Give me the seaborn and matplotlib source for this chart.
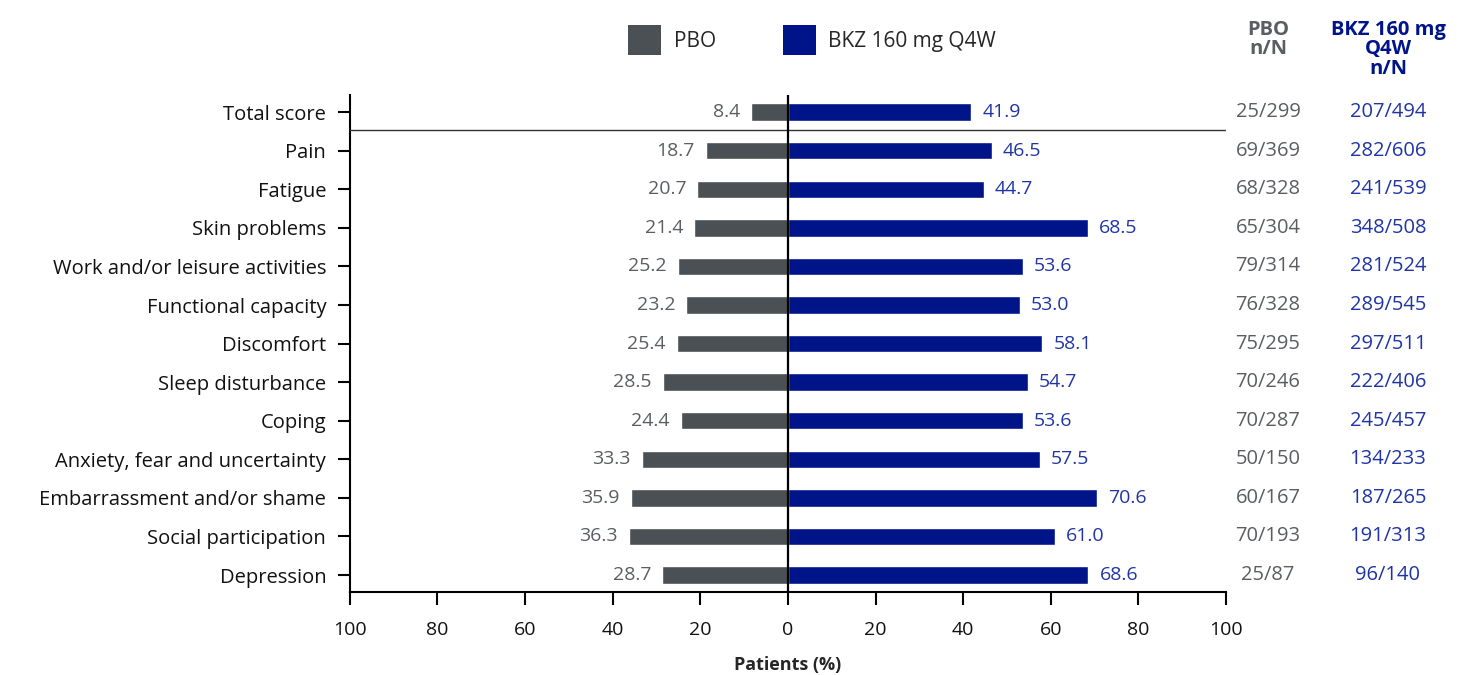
import numpy as np
import pandas as pd
import matplotlib.pyplot as plt
import seaborn as sns
from matplotlib.patches import Patch
from matplotlib.transforms import blended_transform_factory

categories = ["Total score", "Pain", "Fatigue", "Skin problems", "Work and/or leisure activities",
              "Functional capacity", "Discomfort", "Sleep disturbance", "Coping",
              "Anxiety, fear and uncertainty", "Embarrassment and/or shame",
              "Social participation", "Depression"]
pbo = [8.4, 18.7, 20.7, 21.4, 25.2, 23.2, 25.4, 28.5, 24.4, 33.3, 35.9, 36.3, 28.7]
bkz = [41.9, 46.5, 44.7, 68.5, 53.6, 53.0, 58.1, 54.7, 53.6, 57.5, 70.6, 61.0, 68.6]
pbo_nN = ["25/299", "69/369", "68/328", "65/304", "79/314", "76/328", "75/295",
          "70/246", "70/287", "50/150", "60/167", "70/193", "25/87"]
bkz_nN = ["207/494", "282/606", "241/539", "348/508", "281/524", "289/545", "297/511",
          "222/406", "245/457", "134/233", "187/265", "191/313", "96/140"]
xticks = [-100, -80, -60, -40, -20, 0, 20, 40, 60, 80, 100]

GREY = "#4b5054"
NAVY = "#00148a"
GREY_TXT = "#5a5e62"
BLUE_TXT = "#1f35a5"

sns.set_theme(style="white")
plt.rcParams["font.family"] = ["Open Sans", "DejaVu Sans"]

df = pd.DataFrame({"cat": categories, "pbo": [-v for v in pbo], "bkz": bkz})

fig = plt.figure(figsize=(14.7, 6.75), dpi=100)
ax = fig.add_axes([0.238, 0.123, 0.596, 0.736])

sns.barplot(data=df, x="pbo", y="cat", color=GREY, width=0.45, saturation=1, ax=ax, orient="h")
sns.barplot(data=df, x="bkz", y="cat", color=NAVY, width=0.45, saturation=1, ax=ax, orient="h")

ax.set_xlim(-100, 100)
ax.set_ylim(12.44, -0.44)
ax.set_xticks(xticks)
ax.set_xticklabels([str(abs(t)) for t in xticks], fontsize=14, color="#111111")
ax.tick_params(axis="y", labelsize=14.5, labelcolor="#111111", pad=8)
ax.tick_params(axis="both", direction="out", length=9, width=1.5, color="black", left=True, bottom=True)
ax.tick_params(axis="x", pad=12)
ax.set_ylabel("")
ax.set_xlabel("Patients (%)", fontsize=13, fontweight="bold", labelpad=12)

for s in ["top", "right"]:
    ax.spines[s].set_visible(False)
for s in ["left", "bottom"]:
    ax.spines[s].set_color("black")
    ax.spines[s].set_linewidth(1.5)

ax.axvline(0, color="black", lw=1.6, zorder=5)
ax.axhline(0.45, color="#333333", lw=1.0, xmin=0, xmax=1, zorder=4)

for i in range(len(categories)):
    ax.annotate(f"{pbo[i]:.1f}", (-pbo[i], i), xytext=(-8, 0), textcoords="offset points",
                ha="right", va="center", fontsize=14, color=GREY_TXT)
    ax.annotate(f"{bkz[i]:.1f}", (bkz[i], i), xytext=(8, 0), textcoords="offset points",
                ha="left", va="center", fontsize=14, color=BLUE_TXT)

# n/N columns
trans = blended_transform_factory(fig.transFigure, ax.transData)
for i in range(len(categories)):
    ax.text(1268 / 1470, i, pbo_nN[i], transform=trans, ha="center", va="center",
            fontsize=14.5, color=GREY_TXT, clip_on=False)
    ax.text(1388 / 1470, i, bkz_nN[i], transform=trans, ha="center", va="center",
            fontsize=14.5, color=BLUE_TXT, clip_on=False)

fig.text(1268 / 1470, 1 - 20 / 675, "PBO\nn/N", ha="center", va="top", fontsize=14.5,
         fontweight="bold", color=GREY_TXT, linespacing=0.95)
fig.text(1388 / 1470, 1 - 20 / 675, "BKZ 160 mg\nQ4W\nn/N", ha="center", va="top", fontsize=14.5,
         fontweight="bold", color=NAVY, linespacing=0.95)

handles = [Patch(facecolor=GREY, edgecolor="none", label="PBO"),
           Patch(facecolor=NAVY, edgecolor="none", label="BKZ 160 mg Q4W")]
fig.legend(handles=handles, loc="center left", bbox_to_anchor=(628 / 1470, 1 - 40 / 675), ncol=2,
           frameon=False, fontsize=15, handlelength=1.6, handleheight=1.85,
           handletextpad=0.6, columnspacing=3.2, borderpad=0, borderaxespad=0)

fig.savefig("out.png", dpi=100)
